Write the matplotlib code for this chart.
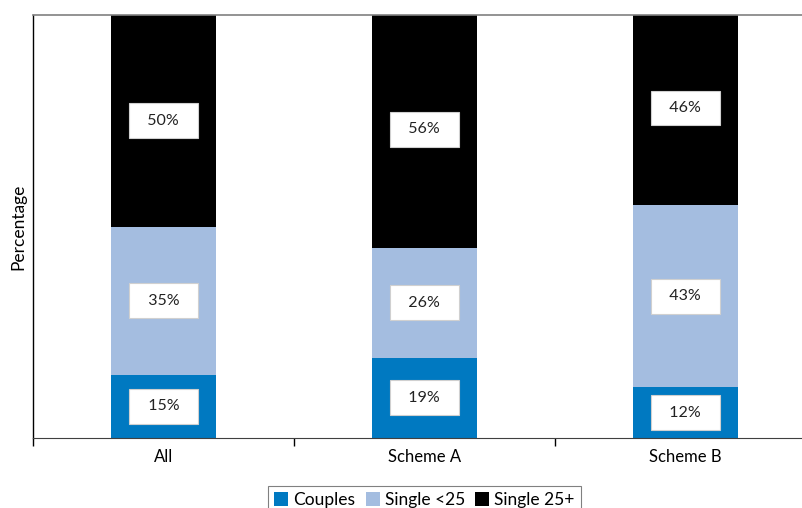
import matplotlib.pyplot as plt
from matplotlib.ticker import FixedLocator

plt.rcParams['font.family'] = ['Lato', 'DejaVu Sans']

# share of each household type, per scheme (%)
groups = ['All', 'Scheme A', 'Scheme B']
couples = [15, 19, 12]
single_under_25 = [35, 26, 43]
single_25_plus = [50, 56, 46]

series = [
    ('Couples', couples, '#0079c1'),
    ('Single <25', single_under_25, '#a4bde0'),
    ('Single 25+', single_25_plus, '#000000'),
]

fig = plt.figure(figsize=(8.03, 5.08), dpi=100)
ax = fig.add_axes([33 / 803, 70 / 508, 783 / 803, 423 / 508])

x = list(range(len(groups)))
bottom = [0] * len(groups)
for name, values, color in series:
    ax.bar(x, values, width=0.40, bottom=bottom, color=color, label=name,
           edgecolor='none', zorder=2)
    for xi, b, v in zip(x, bottom, values):
        ax.text(xi, b + v / 2, f'  {v}%  ', ha='center', va='center',
                fontsize=11.5, color='#222222', zorder=3,
                bbox=dict(boxstyle='square,pad=0.65', fc='white',
                          ec='#d0d0d0', lw=0.8))
    bottom = [b + v for b, v in zip(bottom, values)]

ax.set_xlim(-0.5, 2.5)
ax.set_ylim(0, 100)
ax.set_yticks([])
ax.set_ylabel('Percentage', fontsize=12.5, labelpad=5)

ax.set_xticks(x)
ax.set_xticklabels(groups, fontsize=12)
ax.tick_params(axis='x', which='major', length=0, pad=8)
ax.xaxis.set_minor_locator(FixedLocator([-0.5, 0.5, 1.5, 2.5]))
ax.tick_params(axis='x', which='minor', length=6, width=1, direction='out')

ax.spines['top'].set_color('#808080')
ax.spines['top'].set_linewidth(1.2)
ax.spines['right'].set_visible(False)
ax.spines['left'].set_linewidth(1.0)
ax.spines['bottom'].set_color('#404040')

leg = fig.legend(loc='upper center', bbox_to_anchor=(424.5 / 803, 1 - 486 / 508),
                 ncol=3, fontsize=12.5, frameon=True, fancybox=False,
                 handlelength=0.8, handleheight=0.8, handletextpad=0.3,
                 columnspacing=0.6, borderpad=0.35, borderaxespad=0)
leg.get_frame().set_edgecolor('#606060')
leg.get_frame().set_linewidth(0.8)

fig.savefig('out.png', dpi=100)
